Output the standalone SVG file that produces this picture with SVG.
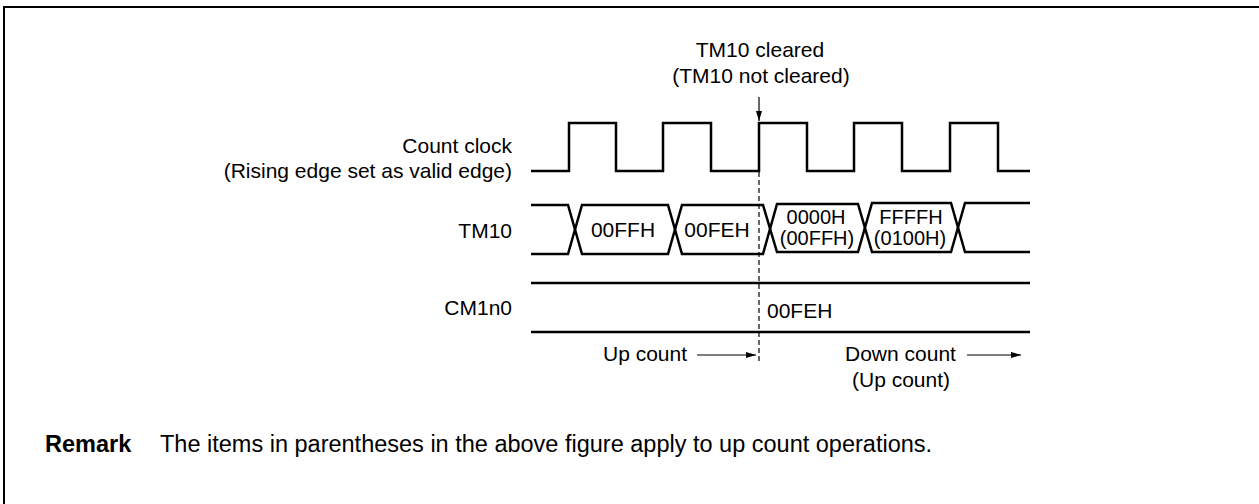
<svg xmlns="http://www.w3.org/2000/svg" width="1259" height="504" viewBox="0 0 1259 504">
<style>
text{font-family:"Liberation Sans",Arial,Helvetica,sans-serif;fill:#000}
.lbl{font-size:21px}
.val{font-size:20px}
.rem{font-size:23.5px}
.sig{fill:none;stroke:#000;stroke-width:2.5;stroke-linejoin:miter}
.thin{fill:none;stroke:#000;stroke-width:1.2}
.dash{fill:none;stroke:#000;stroke-width:1.2;stroke-dasharray:5,3}
</style>
<defs>
<marker id="ah" viewBox="0 0 10 6" refX="10" refY="3" markerWidth="10" markerHeight="6" markerUnits="userSpaceOnUse" orient="auto">
<path d="M0,0 L10,3 L0,6 Z" fill="#000"/>
</marker>
</defs>
<rect width="1259" height="504" fill="#fff"/>
<g id="frame"><path d="M4,504 V7 H1259" fill="none" stroke="#000" stroke-width="2"/></g>

<g id="title">
<text class="lbl" x="760" y="57" text-anchor="middle">TM10 cleared</text>
<text class="lbl" x="761" y="83" text-anchor="middle">(TM10 not cleared)</text>
</g>

<g id="labels">
<text class="lbl" x="512" y="153" text-anchor="end">Count clock</text>
<text class="lbl" x="512" y="178" text-anchor="end">(Rising edge set as valid edge)</text>
<text class="lbl" x="512" y="238" text-anchor="end">TM10</text>
<text class="lbl" x="512" y="315" text-anchor="end">CM1n0</text>
</g>

<g id="clock">
<path class="sig" d="M531,171 H569 V123 H616 V171 H663 V123 H711 V171 H759 V123 H807 V171 H854 V123 H902 V171 H950 V123 H998 V171 H1030"/>
</g>

<g id="tm10">
<path class="sig" d="M531,205 H568 L582,254 H668 L682,205 H763 L777,252 H858 L872,203 H951 L965,252 H1030"/>
<path class="sig" d="M531,254 H568 L582,205 H668 L682,254 H763 L777,204 H858 L872,252 H951 L965,203 H1030"/>
<text class="lbl" x="623" y="237" text-anchor="middle">00FFH</text>
<text class="lbl" x="717" y="237" text-anchor="middle">00FEH</text>
<text class="val" x="816" y="224" text-anchor="middle">0000H</text>
<text class="val" x="817" y="245" text-anchor="middle">(00FFH)</text>
<text class="val" x="911" y="224" text-anchor="middle">FFFFH</text>
<text class="val" x="910" y="245" text-anchor="middle">(0100H)</text>
</g>

<g id="cm1n0">
<path class="sig" d="M531,283 H1030 M531,332 H1030"/>
<text class="lbl" x="767" y="318">00FEH</text>
</g>

<g id="connectors">
<line class="thin" x1="759" y1="97" x2="759" y2="121" marker-end="url(#ah)"/>
<line class="dash" x1="759" y1="124" x2="759" y2="362"/>
<line class="thin" x1="697" y1="355" x2="756" y2="355" marker-end="url(#ah)"/>
<line class="thin" x1="967" y1="355" x2="1021" y2="355" marker-end="url(#ah)"/>
</g>

<g id="counts">
<text class="lbl" x="603" y="361">Up count</text>
<text class="lbl" x="845" y="361">Down count</text>
<text class="lbl" x="852" y="387">(Up count)</text>
</g>

<g id="remark">
<text class="rem" x="45" y="452" font-weight="bold">Remark</text>
<text class="rem" x="160" y="452">The items in parentheses in the above figure apply to up count operations.</text>
</g>
</svg>
